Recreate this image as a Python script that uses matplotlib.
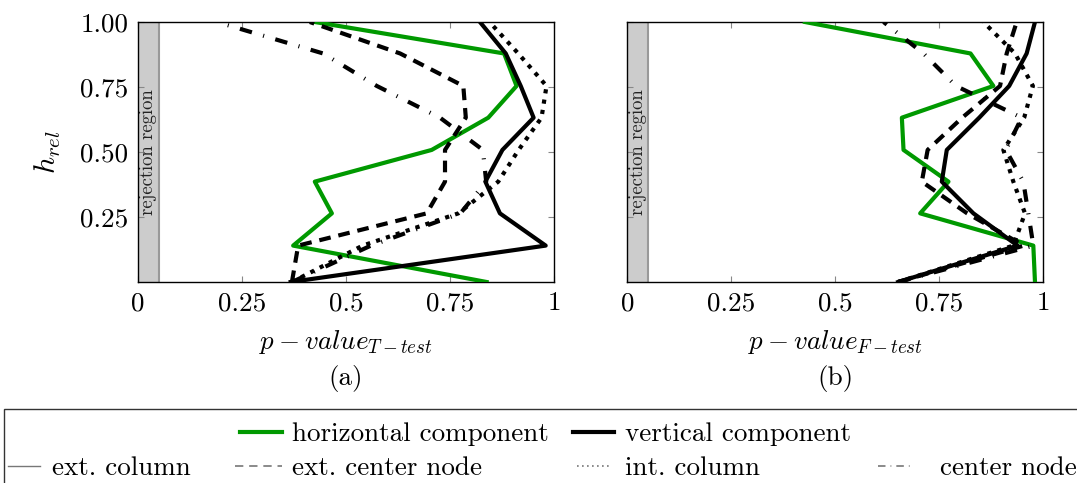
import matplotlib.pyplot as plt
from matplotlib.lines import Line2D
from matplotlib.patches import Rectangle

plt.rcParams['font.family'] = 'serif'
plt.rcParams['font.serif'] = ['cmr10']
plt.rcParams['mathtext.fontset'] = 'cm'
plt.rcParams['axes.unicode_minus'] = False
plt.rcParams['axes.formatter.use_mathtext'] = True

# relative height levels (y axis)
h_rel = [0.0, 0.14, 0.264, 0.386, 0.508, 0.632, 0.754, 0.879, 1.0]

# (a) T-test p-values
t_horiz_ext_column = [0.838, 0.373, 0.466, 0.425, 0.706, 0.842, 0.910, 0.880, 0.425]
t_vert_ext_column = [0.367, 0.980, 0.870, 0.835, 0.876, 0.951, 0.920, 0.884, 0.822]
t_vert_ext_center = [0.370, 0.385, 0.694, 0.738, 0.738, 0.788, 0.782, 0.630, 0.413]
t_vert_int_column = [0.370, 0.540, 0.770, 0.866, 0.915, 0.970, 0.982, 0.914, 0.845]
t_vert_center = [0.370, 0.560, 0.775, 0.837, 0.829, 0.726, 0.574, 0.445, 0.190]

# (b) F-test p-values
f_horiz_ext_column = [0.980, 0.976, 0.704, 0.772, 0.664, 0.660, 0.880, 0.825, 0.427]
f_vert_ext_column = [0.651, 0.938, 0.832, 0.756, 0.768, 0.846, 0.918, 0.960, 0.980]
f_vert_ext_center = [0.651, 0.953, 0.817, 0.708, 0.722, 0.805, 0.896, 0.912, 0.936]
f_vert_int_column = [0.651, 0.928, 0.956, 0.928, 0.904, 0.954, 0.975, 0.932, 0.856]
f_vert_center = [0.651, 0.976, 0.964, 0.952, 0.910, 0.948, 0.790, 0.712, 0.616]

x_ticks = [0, 0.25, 0.5, 0.75, 1]
x_ticklabels = ['0', '0.25', '0.5', '0.75', '1']
y_ticks = [0.25, 0.5, 0.75, 1.0]
y_ticklabels = ['0.25', '0.50', '0.75', '1.00']
alpha_level = 0.05

GREEN = '#009900'
LW = 3.0
FS = 19.5
SOLID = '-'
DASHED = (0, (2.8, 1.9))
DOTTED = (0, (1.0, 1.5))
DASHDOT = (0, (3.0, 2.8, 0.25, 2.8))

W, H = 1077, 483
fig = plt.figure(figsize=(W / 100, H / 100), dpi=100)


def px(x, y):
    return x / W, 1 - y / H


ax_a = fig.add_axes([138 / W, 1 - 282 / H, 416 / W, 260 / H])
ax_b = fig.add_axes([627.3 / W, 1 - 282 / H, 416 / W, 260 / H])


def draw_panel(ax, horiz, vert, center_ext, int_col, center, xlabel, tag, ylabels):
    ax.axvspan(0, alpha_level, color='#cccccc', lw=0, zorder=1)
    ax.axvline(alpha_level, color='#999999', lw=1.5, zorder=1.5)
    ax.text(alpha_level / 2, 0.5, 'rejection region', rotation=90,
            ha='center', va='center', fontsize=13.5, color='#222222', zorder=2)

    ax.plot(horiz, h_rel, color=GREEN, lw=LW, linestyle=SOLID, zorder=3)
    ax.plot(vert, h_rel, color='black', lw=LW, linestyle=SOLID, zorder=3)
    ax.plot(center_ext, h_rel, color='black', lw=LW, linestyle=DASHED, zorder=3)
    ax.plot(int_col, h_rel, color='black', lw=LW, linestyle=DOTTED, zorder=3)
    ax.plot(center, h_rel, color='black', lw=LW, linestyle=DASHDOT, zorder=3)

    ax.set_xlim(0, 1)
    ax.set_ylim(0, 1)
    ax.set_xticks(x_ticks)
    ax.set_xticklabels(x_ticklabels)
    ax.set_yticks(y_ticks)
    if ylabels:
        ax.set_yticklabels(y_ticklabels)
        ax.set_ylabel('$h_{rel}$', fontsize=FS + 2, labelpad=12)
    else:
        ax.set_yticklabels([])
    ax.tick_params(direction='in', top=True, right=True, length=4, width=0.8,
                   color='#888888', labelsize=FS, pad=7)
    for s in ax.spines.values():
        s.set_linewidth(1.0)
    ax.set_xlabel(xlabel, fontsize=FS, labelpad=9)
    ax.text(0.5, -0.37, tag, transform=ax.transAxes, ha='center', va='center', fontsize=FS)


draw_panel(ax_a, t_horiz_ext_column, t_vert_ext_column, t_vert_ext_center,
           t_vert_int_column, t_vert_center, r'$p-value_{T-test}$', '(a)', True)
draw_panel(ax_b, f_horiz_ext_column, f_vert_ext_column, f_vert_ext_center,
           f_vert_int_column, f_vert_center, r'$p-value_{F-test}$', '(b)', False)

# legend box (runs off the right/bottom edge like in the original)
fig.patches.append(Rectangle(px(4, 520), 1.2, (520 - 409) / H, transform=fig.transFigure,
                             fill=False, ec='#333333', lw=1.0))

# legend entries: (sample x0, x1, text x, row y, style, colour, lw, label)
entries = [
    (240, 282, 292, 432, '-', GREEN, 3.0, 'horizontal component'),
    (573, 614, 625, 432, '-', 'black', 3.0, 'vertical component'),
    (8, 40, 52, 466, '-', '#777777', 1.0, 'ext. column'),
    (235, 282, 292, 466, (0, (5, 3.5)), '#777777', 1.2, 'ext. center node'),
    (577, 612, 625, 466, (0, (1, 2)), '#777777', 1.2, 'int. column'),
    (878, 912, 940, 466, (0, (4.5, 3, 0.5, 3)), '#777777', 1.2, 'center node'),
]
for x0, x1, tx, y, ls, col, lw, label in entries:
    fx0, fy = px(x0, y)
    fx1, _ = px(x1, y)
    fig.lines.append(Line2D([fx0, fx1], [fy, fy], transform=fig.transFigure,
                            color=col, lw=lw, linestyle=ls))
    fig.text(px(tx, y)[0], fy, label, ha='left', va='center_baseline', fontsize=FS)

fig.savefig('out.png', dpi=100)
